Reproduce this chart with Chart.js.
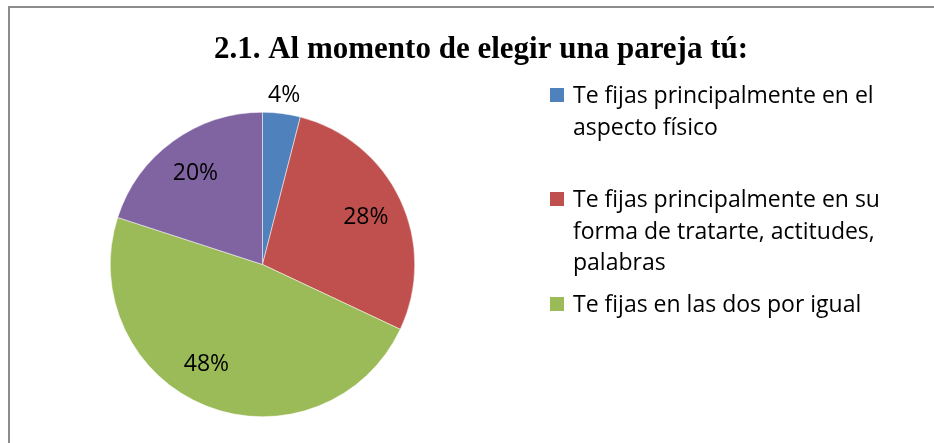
<!DOCTYPE html>
<html>
<head>
<meta charset="utf-8">
<script src="https://cdn.jsdelivr.net/npm/chart.js@4"></script>
<style>
  html, body { margin: 0; padding: 0; background: #fff; }
  #wrap { width: 934px; height: 443px; }
</style>
</head>
<body>
<div id="wrap"><canvas id="myChart" width="934" height="443"></canvas></div>
<script>
// chart data
const chartTitle = "2.1. Al momento de elegir una pareja tú:";
const categories = [
  "Te fijas principalmente en el aspecto físico",
  "Te fijas principalmente en su forma de tratarte, actitudes, palabras",
  "Te fijas en las dos por igual",
  ""
];
const percentValues = [4, 28, 48, 20];
const sliceColors = ["#4F81BD", "#C0504D", "#9BBB59", "#8064A2"];
// legend text as wrapped in the picture
const legendLines = [
  ["Te fijas principalmente en el", "aspecto físico"],
  ["Te fijas principalmente en su", "forma de tratarte, actitudes,", "palabras"],
  ["Te fijas en las dos por igual"]
];

const labelFont = '23px "Open Sans", "Noto Sans", sans-serif';

// draws frame, title, slice labels and the legend
const decorPlugin = {
  id: "decor",
  afterDraw(chart) {
    const ctx = chart.ctx;
    ctx.save();

    // frame
    ctx.strokeStyle = "#8c8c8c";
    ctx.lineWidth = 2;
    ctx.beginPath();
    ctx.moveTo(9, 460);
    ctx.lineTo(9, 7);
    ctx.lineTo(940, 7);
    ctx.stroke();

    // title
    ctx.fillStyle = "#000";
    ctx.font = 'bold 31px "Liberation Serif", "Times New Roman", serif';
    ctx.textAlign = "center";
    ctx.textBaseline = "alphabetic";
    ctx.fillText(chartTitle, 481, 58);

    // percentages (best-fit like nudge for the big slice)
    const meta = chart.getDatasetMeta(0);
    const nudge = { 2: [-14, -8] };
    ctx.font = labelFont;
    meta.data.forEach((arc, i) => {
      const mid = (arc.startAngle + arc.endAngle) / 2;
      const f = percentValues[i] < 10 ? 1.13 : 0.75;
      const d = nudge[i] || [0, 0];
      const x = arc.x + Math.cos(mid) * arc.outerRadius * f + d[0];
      const y = arc.y + Math.sin(mid) * arc.outerRadius * f + d[1];
      ctx.fillText(percentValues[i] + "%", x, y + 8);
    });

    // legend
    ctx.textAlign = "left";
    const baselines = [103, 207, 312];
    legendLines.forEach((lines, i) => {
      ctx.fillStyle = sliceColors[i];
      ctx.fillRect(550, baselines[i] - 15, 14, 14);
      ctx.fillStyle = "#000";
      lines.forEach((t, j) => {
        ctx.fillText(t, 573, baselines[i] + j * 31.5);
      });
    });

    ctx.restore();
  }
};

new Chart(document.getElementById("myChart"), {
  type: "pie",
  data: {
    labels: categories,
    datasets: [{
      data: percentValues,
      backgroundColor: sliceColors,
      borderColor: "#ffffff",
      borderWidth: 0.5
    }]
  },
  options: {
    responsive: false,
    animation: false,
    layout: {
      padding: { left: 110, right: 519, top: 112, bottom: 26 }
    },
    plugins: {
      legend: { display: false },
      title: { display: false },
      tooltip: { enabled: false }
    }
  },
  plugins: [decorPlugin]
});
</script>
</body>
</html>
